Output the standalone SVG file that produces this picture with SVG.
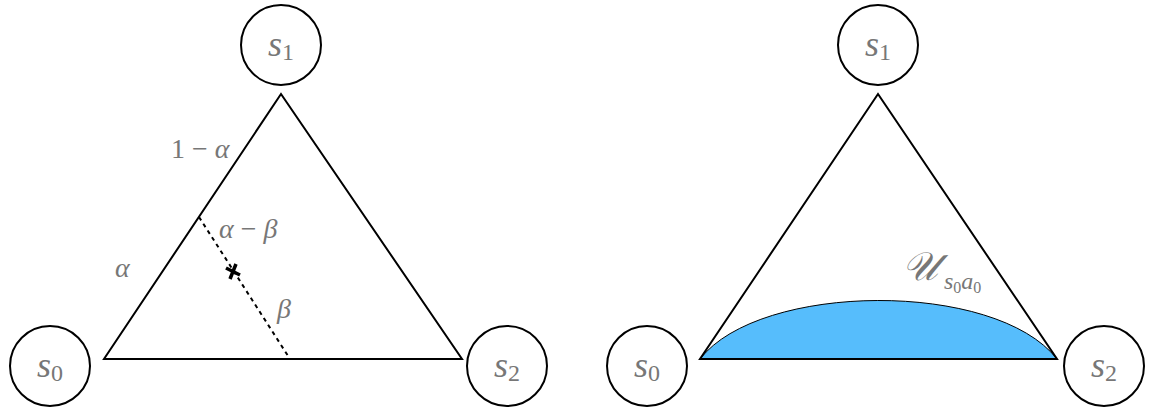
<svg xmlns="http://www.w3.org/2000/svg" width="1156" height="411" viewBox="0 0 1156 411">
<defs>
<style type="text/css">
.node{fill:#fff;stroke:#000;stroke-width:2}
.edge{fill:none;stroke:#000;stroke-width:2}
</style>
</defs>
<rect width="1156" height="411" fill="#fff"/>
<g id="connectors">
<polygon class="edge" points="281,94 104,359 462,359"/>
<line x1="199" y1="217" x2="290" y2="359" stroke="#000" stroke-width="2" stroke-dasharray="4,4"/>
<g stroke="#000" stroke-width="3.5"><line x1="226" y1="268" x2="240" y2="275"/><line x1="230" y1="279" x2="236" y2="264"/></g>
<path d="M700,359 C760,282 995,280 1057,359 Z" fill="#56bdfc" stroke="#000" stroke-width="1"/>
<polygon class="edge" points="878,94 700,359 1057,359"/>
</g>
<g id="labels" font-family="'Liberation Serif', serif" fill="#777" font-size="28">
<text x="171" y="158">1 − <tspan font-style="italic">α</tspan></text>
<text x="219" y="238"><tspan font-style="italic">α</tspan> − <tspan font-style="italic">β</tspan></text>
<text x="277" y="318" font-style="italic">β</text>
<text x="115" y="277" font-style="italic">α</text>
<text x="902" y="280" font-size="40" font-style="italic">𝒰<tspan font-size="24" dx="6" dy="9">s</tspan><tspan font-size="16" font-style="normal" dy="4">0</tspan><tspan font-size="24" dy="-4">a</tspan><tspan font-size="16" font-style="normal" dy="4">0</tspan></text>
</g>
<g id="nodes" font-family="'Liberation Serif', serif" fill="#777" font-size="36" font-style="italic" text-anchor="middle">
<g id="s1_left"><circle class="node" cx="281" cy="45" r="40"/><text x="281" y="56">s<tspan font-style="normal" font-size="24" dy="4">1</tspan></text></g>
<g id="s0_left"><circle class="node" cx="50" cy="366" r="40"/><text x="50" y="377">s<tspan font-style="normal" font-size="24" dy="4">0</tspan></text></g>
<g id="s2_left"><circle class="node" cx="507" cy="366" r="40"/><text x="507" y="377">s<tspan font-style="normal" font-size="24" dy="4">2</tspan></text></g>
<g id="s1_right"><circle class="node" cx="878" cy="45" r="40"/><text x="878" y="56">s<tspan font-style="normal" font-size="24" dy="4">1</tspan></text></g>
<g id="s0_right"><circle class="node" cx="647" cy="366" r="40"/><text x="647" y="377">s<tspan font-style="normal" font-size="24" dy="4">0</tspan></text></g>
<g id="s2_right"><circle class="node" cx="1104" cy="366" r="40"/><text x="1104" y="377">s<tspan font-style="normal" font-size="24" dy="4">2</tspan></text></g>
</g>
</svg>
